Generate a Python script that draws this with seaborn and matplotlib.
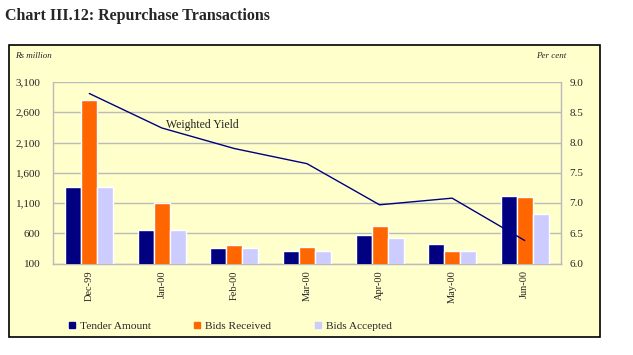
import numpy as np
import pandas as pd
import seaborn as sns
import matplotlib.pyplot as plt
from matplotlib.patches import Rectangle
from matplotlib.lines import Line2D

# data
months = ['Dec-99', 'Jan-00', 'Feb-00', 'Mar-00', 'Apr-00', 'May-00', 'Jun-00']
tender_amount = [1360, 660, 360, 310, 570, 420, 1215]
bids_received = [2810, 1095, 410, 375, 715, 305, 1200]
bids_accepted = [1360, 660, 360, 310, 520, 305, 915]
weighted_yield = [8.81, 8.24, 7.90, 7.65, 6.97, 7.08, 6.38]

series = ['Tender Amount', 'Bids Received', 'Bids Accepted']
colors = ['#000080', '#FF6600', '#CCCCFF']

df = pd.DataFrame({
    'month': months * 3,
    'series': np.repeat(series, len(months)),
    'value': tender_amount + bids_received + bids_accepted,
})

sns.set_style('white')
plt.rcParams['font.family'] = ['Liberation Serif', 'DejaVu Serif']

fig = plt.figure(figsize=(6.33, 3.55), dpi=100)
fig.patch.set_facecolor('white')

# yellow framed panel
fig.patches.append(Rectangle((9 / 633, 1 - 337 / 355), 591 / 633, 292 / 355,
                             transform=fig.transFigure, facecolor='#FFFFCC',
                             edgecolor='black', linewidth=1.2, zorder=-10))

ax = fig.add_axes([53 / 633, 1 - 263.5 / 355, 508 / 633, 181.5 / 355])
ax.set_zorder(1)
ax.set_facecolor('none')
sns.barplot(data=df, x='month', y='value', hue='series', palette=colors,
            width=0.66, gap=0, saturation=1, ax=ax, legend=False, zorder=3)

ax.set_ylim(100, 3100)
ax.set_yticks(range(100, 3101, 500))
ax.set_yticklabels([f'{v:,}' for v in range(100, 3101, 500)], fontsize=8)
ax.set_xlim(-0.5, len(months) - 0.5)
ax.set_xticks(range(len(months)))
ax.set_xticklabels(months, rotation=90, fontsize=7.5)
ax.set_xticks(np.arange(-0.5, len(months), 1), minor=True)
ax.tick_params(axis='x', which='major', length=0, pad=5)
ax.tick_params(axis='x', which='minor', length=3, color='#AAAAAA')
ax.tick_params(axis='y', length=0, pad=9)
ax.grid(axis='y', color='#BBBBBB', linewidth=1, zorder=0)
ax.set_axisbelow(True)
ax.set_xlabel('')
ax.set_ylabel('')
for s in ['left', 'bottom', 'right']:
    ax.spines[s].set_color('#BBBBBB')
    ax.spines[s].set_linewidth(1)
ax.spines['top'].set_visible(False)

ax2 = ax.twinx()
ax2.set_zorder(2)
ax2.set_facecolor('none')
sns.lineplot(x=list(range(len(months))), y=weighted_yield, color='#000080',
             linewidth=1, ax=ax2, zorder=4)
ax2.set_ylim(6.0, 9.0)
ax2.set_yticks(np.arange(6.0, 9.01, 0.5))
ax2.set_yticklabels([f'{v:.1f}' for v in np.arange(6.0, 9.01, 0.5)], fontsize=8)
ax2.tick_params(axis='y', length=0, pad=6)
for s in ['left', 'bottom', 'top']:
    ax2.spines[s].set_visible(False)
ax2.spines['right'].set_color('#BBBBBB')
ax2.text(1.06, 8.29, 'Weighted Yield', fontsize=8.5, ha='left', va='center')

fig.text(5 / 633, 1 - 16 / 355, 'Chart III.12: Repurchase Transactions',
         fontsize=11.5, fontweight='bold', ha='left', va='center')
fig.text(15 / 633, 1 - 56 / 355, 'Rs million', fontsize=6.5, style='italic',
         ha='left', va='center')
fig.text(536 / 633, 1 - 56 / 355, 'Per cent', fontsize=6.5, style='italic',
         ha='left', va='center')

handles = [Line2D([], [], marker='s', linestyle='', markersize=5,
                  markerfacecolor=c, markeredgecolor=c) for c in colors]
fig.legend(handles, series, loc='center left', ncol=3, frameon=False,
           bbox_to_anchor=(57 / 633, 1 - 326 / 355), fontsize=8.2,
           handlelength=0.8, handletextpad=0.3, columnspacing=3.7)

fig.savefig('out.png', dpi=100)
